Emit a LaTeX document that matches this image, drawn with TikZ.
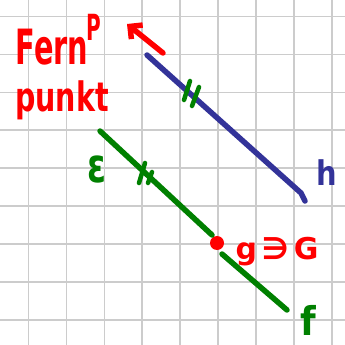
\documentclass[tikz,border=0pt]{standalone}
\usepackage{fontspec}
\setmainfont{DejaVu Sans}
\usetikzlibrary{arrows.meta}
\definecolor{penred}{RGB}{255,0,0}
\definecolor{pengreen}{RGB}{0,128,0}
\definecolor{penblue}{RGB}{51,51,153}
\definecolor{gridgray}{RGB}{204,204,204}
\tikzset{
  gridline/.style={gridgray, line width=1.6pt},
  pen/.style={line width=5.5pt, line cap=round, line join=round},
  tickpen/.style={line width=4.5pt, line cap=round, pengreen},
  hand/.style={inner sep=0pt, font=\bfseries},
}
\begin{document}
\begin{tikzpicture}[x=1pt,y=-1pt]
\useasboundingbox (0,0) rectangle (345,345);
\fill[white] (0,0) rectangle (345,345);
% grid
\foreach \i in {0,...,8} {
  \draw[gridline] ({28.5+37.9*\i},0) -- ({28.5+37.9*\i},345);
  \draw[gridline] (0,{16.5+37.9*\i}) -- (345,{16.5+37.9*\i});
}
% labels
\node[hand, penred, font=\bfseries\fontsize{36}{36}\selectfont, xscale=0.8, yscale=1.35] (fern) at (52,47) {Fern};
\node[hand, penred, font=\bfseries\fontsize{30}{30}\selectfont, xscale=0.95, yscale=1.35] (punkt) at (62,100) {punkt};
\node[hand, penred, font=\bfseries\fontsize{40}{40}\selectfont, xscale=0.5, yscale=0.9] (P) at (94,27) {P};
% red arrow
\coordinate (a1) at (163,53);
\coordinate (a2) at (127,24);
\draw[pen, penred, -{Straight Barb[length=9pt,width=18pt]}] (a1) -- (a2);
% blue line h
\coordinate (h1) at (147,55);
\coordinate (h2) at (301,193);
\coordinate (h3) at (305,201);
\draw[pen, penblue] (h1) -- (h2) -- (h3);
\node[hand, penblue, font=\bfseries\fontsize{34}{34}\selectfont, xscale=0.85] (h) at (327,173) {h};
% green ticks on h
\draw[tickpen] (190,81) -- (184,100);
\draw[tickpen] (199,87) -- (192,106);
% green line f
\coordinate (f1) at (100,131);
\coordinate (f2) at (222,254);
\coordinate (f3) at (287,310);
\node[circle, fill=penred, minimum size=14pt, inner sep=0pt] (G) at (217,243) {};
\draw[pen, pengreen] (f1) -- (212,235);
\draw[pen, pengreen] (f2) -- (f3);
% green ticks on f
\draw[tickpen] (145,163) -- (139,183);
\draw[tickpen] (152,172) -- (148,183);
\node[hand, pengreen, font=\bfseries\fontsize{34}{34}\selectfont, yscale=1.4] (eps) at (97,170) {ε};
\node[hand, penred, font=\bfseries\fontsize{30}{30}\selectfont] (gG) at (277,252) {g\,∋\,G};
\node[hand, pengreen, font=\bfseries\fontsize{36}{36}\selectfont, yscale=1.1] (f) at (308,320) {f};
\end{tikzpicture}
\end{document}
